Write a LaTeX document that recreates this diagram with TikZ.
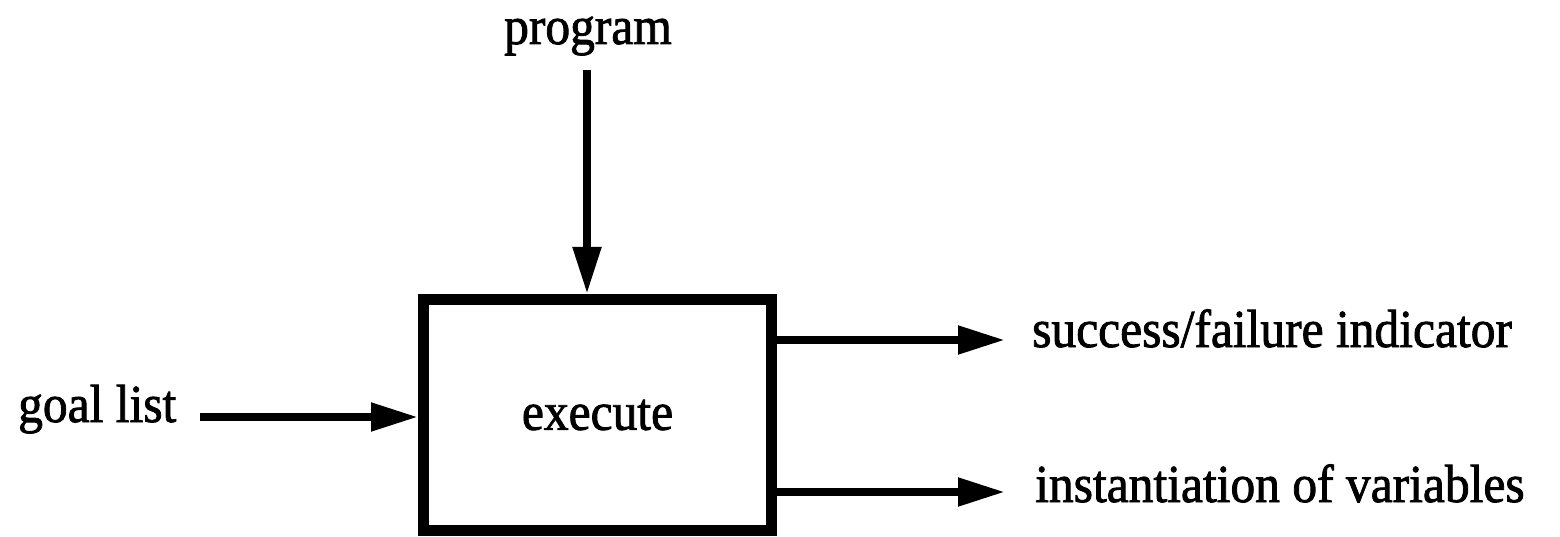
\documentclass[tikz,border=0pt]{standalone}
\usepackage{fontspec}
\setmainfont{Liberation Serif}
\newfontfamily\heavyserif{Liberation Serif}[FakeBold=1.6]
\usetikzlibrary{arrows.meta}
\newcommand{\heavytext}[1]{\scalebox{1}[1.08]{\heavyserif #1}}
\tikzset{
  lbl/.style={inner sep=0pt, font=\fontsize{49.5}{60}\selectfont},
  procbox/.style={draw, line width=11pt, minimum width=348pt, minimum height=231pt,
    inner sep=0pt, font=\fontsize{49.5}{60}\selectfont},
  flow/.style={line width=8pt, -{Triangle[length=47pt, width=27pt]}}
}
\begin{document}
\begin{tikzpicture}[x=1pt, y=-1pt]
  \useasboundingbox (0,0) rectangle (1560,537);
  % the process block
  \node[procbox] (exec) at (597.5,415) {\heavytext{execute}};
  % inputs and outputs
  \node[lbl, anchor=base] (prog) at (588,44) {\heavytext{program}};
  \node[lbl, anchor=base west] (goal) at (18,422) {\heavytext{goal list}};
  \node[lbl, anchor=base west] (succ) at (1032,347) {\heavytext{success/failure indicator}};
  \node[lbl, anchor=base west] (inst) at (1035,502) {\heavytext{instantiation of variables}};
  % free ends of the connectors
  \coordinate (progend) at (587,70);
  \coordinate (goalend) at (200,417);
  \coordinate (succend) at (1005,340);
  \coordinate (instend) at (1005,492);
  % connectors
  \draw[flow] (progend) -- (progend |- exec.north);
  \draw[flow] (goalend) -- (exec.west |- goalend);
  \draw[flow] (exec.east |- succend) -- (succend);
  \draw[flow] (exec.east |- instend) -- (instend);
\end{tikzpicture}
\end{document}
